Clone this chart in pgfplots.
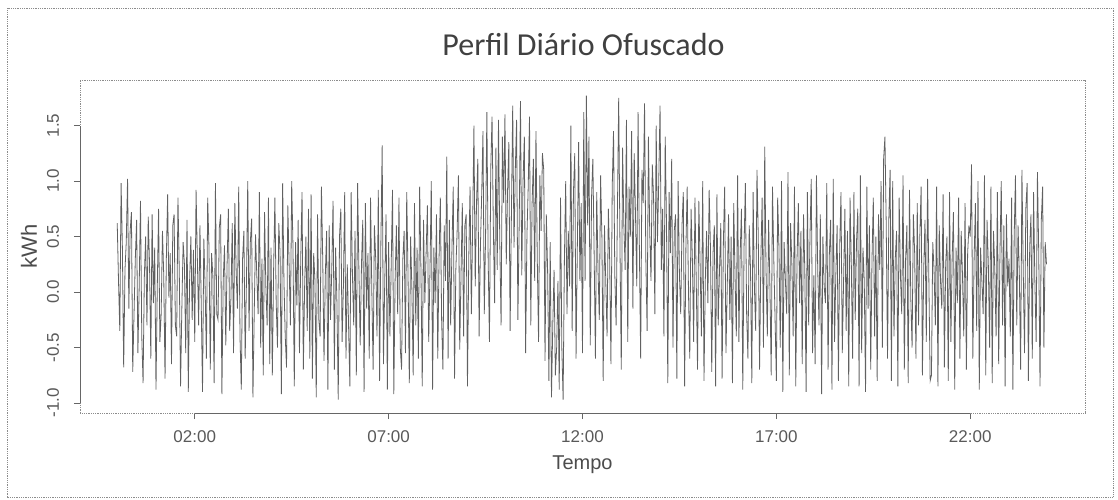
\documentclass[border=0pt]{standalone}
\usepackage{fontspec}
\setmainfont{Liberation Sans}
\newfontfamily\calibri{Carlito}
\usepackage{pgfplots}
\usetikzlibrary{calc}
\pgfplotsset{compat=1.18}
\begin{document}
\begin{tikzpicture}
\begin{axis}[
  width=1005pt, height=333pt, scale only axis,
  xmin=-28.8, xmax=748.8, ymin=-1.09, ymax=1.91,
  clip=false,
  axis line style={black!45, densely dotted, line width=0.8pt},
  xtick={60,210,360,510,660},
  xticklabels={02:00,07:00,12:00,17:00,22:00},
  ytick={-1,-0.5,0,0.5,1,1.5},
  /pgf/number format/fixed,
  /pgf/number format/fixed zerofill,
  /pgf/number format/precision=1,
  /pgf/number format/assume math mode=true,
  tick align=outside, tick pos=left, major tick length=6pt,
  tick style={black!60, line width=0.8pt},
  ticklabel style={font=\fontsize{17}{20}\selectfont, text=black!65},
  yticklabel style={xshift=-11.5pt, rotate=90, anchor=south},
  xticklabel style={yshift=-8pt},
  xlabel={Tempo}, ylabel={kWh},
  xlabel style={font=\fontsize{20}{24}\selectfont, text=black!70, at={(axis description cs:0.5,0)}, anchor=center, yshift=-52pt},
  ylabel style={font=\fontsize{22}{26}\selectfont, text=black!70, at={(axis description cs:0,0.5)}, anchor=center, yshift=51pt},
]
\path (rel axis cs:0,0) ++(-80pt,-86pt) coordinate (bbsw);
\path (rel axis cs:1,1) ++(33pt,80pt) coordinate (bbne);
\draw[black!45, densely dotted, line width=0.8pt] ($(rel axis cs:0,0)+(-73pt,-84pt)$) rectangle ($(rel axis cs:1,1)+(28pt,72pt)$);
\node[font=\calibri\fontsize{32}{38}\selectfont, text=black!75] at ($(rel axis cs:0.5,1)+(1pt,35pt)$) {Perfil Diário Ofuscado};
\draw[black!60, line width=0.8pt] (axis cs:60,-1.09) -- (axis cs:660,-1.09);
\draw[black!60, line width=0.8pt] (axis cs:-28.8,-1) -- (axis cs:-28.8,1.5);
\addplot[black!62, line width=0.8pt, mark=none] coordinates {
(0,0.62)(1,0.10)(2,-0.35)(3,0.98)(4,0.40)(5,-0.68)(6,0.20)(7,0.45)(8,1.02)(9,-0.15)(10,0.55)(11,0.72)(12,-0.72)(13,-0.20)(14,0.30)(15,0.65)(16,-0.55)(17,0.05)(18,0.82)(19,-0.40)(20,-0.82)(21,0.15)(22,0.50)(23,-0.30)(24,0.68)(25,0.25)(26,-0.60)(27,0.70)(28,-0.10)(29,0.40)
(30,-0.88)(31,0.05)(32,0.75)(33,-0.45)(34,-0.20)(35,0.55)(36,0.15)(37,-0.78)(38,0.30)(39,0.88)(40,-0.05)(41,0.35)(42,-0.65)(43,0.60)(44,0.70)(45,-0.30)(46,-0.40)(47,0.85)(48,0.20)(49,-0.85)(50,-0.15)(51,0.45)(52,0.25)(53,-0.55)(54,0.65)(55,-0.90)(56,0.10)(57,0.50)(58,-0.25)(59,0.38)
(60,-0.45)(61,0.92)(62,0.30)(63,-0.30)(64,0.60)(65,-0.10)(66,-0.90)(67,0.48)(68,0.05)(69,-0.60)(70,0.85)(71,0.40)(72,-0.70)(73,0.35)(74,0.15)(75,-0.82)(76,0.98)(77,-0.20)(78,-0.25)(79,0.58)(80,0.70)(81,-0.92)(82,0.10)(83,0.42)(84,-0.48)(85,0.25)(86,0.75)(87,-0.35)(88,-0.05)(89,0.62)
(90,-0.55)(91,0.80)(92,0.20)(93,-0.15)(94,0.95)(95,-0.40)(96,-0.88)(97,0.30)(98,0.55)(99,-0.60)(100,0.10)(101,1.00)(102,-0.35)(103,0.45)(104,0.66)(105,-0.95)(106,-0.20)(107,0.52)(108,0.15)(109,-0.20)(110,0.90)(111,-0.50)(112,0.30)(113,-0.75)(114,0.72)(115,0.05)(116,-0.30)(117,0.85)(118,-0.65)(119,0.40)
(120,-0.75)(121,0.20)(122,0.85)(123,-0.10)(124,-0.50)(125,0.62)(126,0.35)(127,-0.92)(128,0.98)(129,0.10)(130,-0.40)(131,-0.68)(132,0.78)(133,0.25)(134,-0.30)(135,1.00)(136,0.40)(137,-0.85)(138,0.45)(139,-0.12)(140,0.65)(141,-0.55)(142,0.30)(143,0.90)(144,-0.70)(145,0.05)(146,0.50)(147,-0.35)(148,0.75)(149,-0.60)
(150,0.88)(151,-0.78)(152,0.35)(153,0.10)(154,-0.95)(155,0.70)(156,-0.25)(157,-0.40)(158,0.95)(159,0.30)(160,-0.62)(161,0.15)(162,0.55)(163,-0.88)(164,0.60)(165,-0.25)(166,0.20)(167,0.82)(168,-0.70)(169,0.40)(170,-0.10)(171,-0.97)(172,0.50)(173,0.75)(174,-0.45)(175,0.05)(176,0.90)(177,-0.60)(178,0.25)(179,-0.30)
(180,-0.85)(181,0.90)(182,0.15)(183,-0.30)(184,0.55)(185,-0.75)(186,0.98)(187,0.20)(188,-0.48)(189,0.25)(190,0.65)(191,-0.90)(192,0.80)(193,-0.15)(194,0.35)(195,-0.60)(196,0.85)(197,0.00)(198,-0.70)(199,0.60)(200,0.30)(201,-0.40)(202,0.92)(203,-0.80)(204,0.45)(205,1.32)(206,-0.65)(207,0.10)(208,0.70)(209,-0.88)
(210,0.45)(211,-0.40)(212,0.25)(213,0.92)(214,-0.92)(215,0.10)(216,0.60)(217,-0.20)(218,0.85)(219,-0.50)(220,-0.70)(221,0.30)(222,0.55)(223,-0.55)(224,0.90)(225,0.15)(226,-0.82)(227,0.50)(228,0.02)(229,-0.75)(230,0.80)(231,-0.30)(232,0.40)(233,-0.60)(234,0.95)(235,0.20)(236,-0.85)(237,0.65)(238,-0.10)(239,0.35)
(240,0.78)(241,-0.45)(242,0.20)(243,1.00)(244,-0.88)(245,0.40)(246,-0.10)(247,0.70)(248,-0.60)(249,0.30)(250,0.85)(251,-0.25)(252,-0.70)(253,0.60)(254,0.10)(255,1.22)(256,-0.60)(257,0.65)(258,-0.30)(259,0.40)(260,0.95)(261,-0.78)(262,0.20)(263,0.55)(264,1.05)(265,-0.52)(266,0.15)(267,0.80)(268,-0.40)(269,0.60)
(270,0.70)(271,-0.85)(272,0.30)(273,0.95)(274,-0.20)(275,0.60)(276,1.50)(277,0.05)(278,0.80)(279,1.20)(280,-0.40)(281,0.40)(282,0.88)(283,1.45)(284,-0.20)(285,0.50)(286,1.62)(287,0.30)(288,-0.45)(289,1.10)(290,1.58)(291,0.60)(292,-0.10)(293,1.30)(294,0.20)(295,1.55)(296,0.45)(297,-0.30)(298,1.40)(299,0.80)
(300,1.60)(301,0.25)(302,0.90)(303,1.35)(304,-0.35)(305,0.70)(306,1.68)(307,0.40)(308,1.10)(309,1.55)(310,-0.25)(311,0.60)(312,1.72)(313,0.15)(314,1.00)(315,1.40)(316,-0.55)(317,0.50)(318,0.95)(319,1.58)(320,-0.30)(321,0.80)(322,1.20)(323,0.10)(324,1.45)(325,0.30)(326,-0.45)(327,1.05)(328,0.55)(329,1.25)
(330,1.10)(331,-0.62)(332,0.70)(333,0.20)(334,-0.80)(335,0.45)(336,-0.95)(337,-0.30)(338,0.20)(339,-0.75)(340,-0.50)(341,0.10)(342,-0.88)(343,0.85)(344,-0.50)(345,-0.97)(346,0.30)(347,1.00)(348,-0.20)(349,0.55)(350,0.05)(351,1.50)(352,-0.35)(353,0.90)(354,1.25)(355,-0.60)(356,0.40)(357,1.35)(358,0.10)(359,0.80)
(360,-0.55)(361,1.62)(362,0.10)(363,1.77)(364,0.60)(365,1.40)(366,-0.48)(367,0.85)(368,1.20)(369,0.35)(370,-0.60)(371,0.90)(372,0.20)(373,-0.25)(374,1.05)(375,0.50)(376,-0.80)(377,0.60)(378,0.10)(379,-0.40)(380,0.75)(381,0.30)(382,-0.65)(383,0.95)(384,1.45)(385,0.15)(386,-0.30)(387,0.70)(388,1.75)(389,0.40)
(390,-0.70)(391,1.30)(392,0.60)(393,0.20)(394,1.55)(395,-0.45)(396,0.95)(397,0.50)(398,1.45)(399,-0.15)(400,1.25)(401,0.70)(402,0.05)(403,1.62)(404,0.40)(405,-0.60)(406,1.10)(407,0.80)(408,1.70)(409,0.30)(410,-0.35)(411,1.40)(412,0.55)(413,0.10)(414,1.15)(415,0.85)(416,-0.20)(417,1.50)(418,0.45)(419,1.00)
(420,1.68)(421,0.20)(422,0.75)(423,-0.40)(424,1.40)(425,0.60)(426,-0.82)(427,0.90)(428,0.35)(429,1.20)(430,-0.50)(431,0.55)(432,0.70)(433,-0.78)(434,1.00)(435,0.15)(436,-0.20)(437,0.60)(438,0.90)(439,-0.85)(440,0.40)(441,0.95)(442,0.00)(443,-0.60)(444,0.75)(445,0.30)(446,-0.45)(447,0.85)(448,0.10)(449,-0.70)
(450,0.82)(451,0.25)(452,-0.40)(453,1.00)(454,-0.80)(455,0.10)(456,0.55)(457,-0.10)(458,0.92)(459,0.40)(460,-0.72)(461,0.35)(462,0.60)(463,-0.85)(464,0.88)(465,-0.30)(466,0.20)(467,0.62)(468,-0.78)(469,0.45)(470,0.95)(471,-0.55)(472,0.05)(473,0.70)(474,-0.25)(475,0.50)(476,-0.82)(477,0.80)(478,0.15)(479,-0.40)
(480,1.05)(481,-0.45)(482,0.35)(483,0.75)(484,-0.88)(485,0.40)(486,0.98)(487,-0.20)(488,-0.60)(489,0.60)(490,0.20)(491,-0.82)(492,0.90)(493,0.05)(494,-0.35)(495,1.10)(496,0.50)(497,-0.70)(498,0.30)(499,0.85)(500,-0.50)(501,1.31)(502,0.20)(503,-0.40)(504,0.65)(505,0.05)(506,-0.75)(507,0.95)(508,0.30)(509,-0.25)
(510,-0.80)(511,0.85)(512,0.40)(513,-0.50)(514,1.00)(515,-0.90)(516,0.45)(517,0.10)(518,-0.20)(519,1.08)(520,-0.75)(521,0.62)(522,0.25)(523,-0.40)(524,0.95)(525,-0.85)(526,0.30)(527,0.80)(528,-0.10)(529,0.55)(530,-0.65)(531,0.70)(532,0.20)(533,-0.90)(534,0.90)(535,-0.30)(536,0.50)(537,1.02)(538,-0.55)(539,0.15)
(540,-0.65)(541,1.05)(542,0.20)(543,-0.30)(544,0.70)(545,-0.92)(546,0.50)(547,0.05)(548,-0.10)(549,0.98)(550,-0.70)(551,0.35)(552,0.65)(553,-0.88)(554,1.02)(555,-0.45)(556,0.15)(557,0.60)(558,-0.80)(559,0.40)(560,0.90)(561,-0.55)(562,0.10)(563,0.75)(564,-0.35)(565,0.55)(566,-0.85)(567,0.85)(568,0.25)(569,-0.60)
(570,0.90)(571,-0.25)(572,0.45)(573,0.75)(574,-0.85)(575,1.05)(576,-0.55)(577,0.40)(578,0.10)(579,-0.90)(580,0.95)(581,-0.15)(582,0.60)(583,-0.70)(584,0.30)(585,0.85)(586,-0.40)(587,0.50)(588,-0.80)(589,0.70)(590,0.20)(591,1.00)(592,-0.50)(593,1.20)(594,1.40)(595,0.60)(596,-0.60)(597,0.65)(598,1.10)(599,-0.80)
(600,1.00)(601,-0.40)(602,0.30)(603,0.55)(604,-0.85)(605,0.85)(606,0.15)(607,-0.20)(608,1.05)(609,-0.70)(610,0.30)(611,0.60)(612,-0.82)(613,0.92)(614,-0.05)(615,-0.50)(616,0.70)(617,0.35)(618,-0.60)(619,0.80)(620,-0.30)(621,0.50)(622,0.95)(623,-0.75)(624,0.20)(625,0.65)(626,-0.45)(627,1.02)(628,0.10)(629,-0.80)
(630,-0.75)(631,0.45)(632,0.20)(633,-0.30)(634,0.95)(635,-0.85)(636,0.60)(637,0.10)(638,-0.15)(639,0.88)(640,-0.68)(641,0.25)(642,0.50)(643,-0.80)(644,0.90)(645,-0.45)(646,0.30)(647,0.72)(648,-0.88)(649,0.40)(650,-0.10)(651,0.85)(652,-0.60)(653,0.55)(654,0.15)(655,-0.40)(656,0.80)(657,-0.70)(658,0.35)(659,0.60)
(660,0.50)(661,1.15)(662,-0.60)(663,0.30)(664,0.80)(665,-0.35)(666,1.00)(667,-0.88)(668,0.40)(669,0.10)(670,-0.20)(671,1.05)(672,-0.75)(673,0.65)(674,0.25)(675,-0.50)(676,0.95)(677,-0.82)(678,0.55)(679,0.20)(680,-0.40)(681,0.90)(682,-0.65)(683,0.35)(684,1.00)(685,-0.30)(686,0.60)(687,-0.85)(688,0.70)(689,0.05)
(690,0.30)(691,-0.40)(692,0.85)(693,-0.88)(694,0.50)(695,1.05)(696,-0.30)(697,0.60)(698,0.15)(699,-0.70)(700,1.10)(701,0.20)(702,-0.55)(703,0.75)(704,0.98)(705,-0.80)(706,0.40)(707,0.70)(708,-0.60)(709,0.90)(710,0.10)(711,-0.45)(712,1.08)(713,0.35)(714,-0.85)(715,0.65)(716,0.95)(717,-0.50)(718,0.45)(719,0.25)
};
\end{axis}
\path (bbsw) rectangle (bbne);
\end{tikzpicture}
\end{document}
